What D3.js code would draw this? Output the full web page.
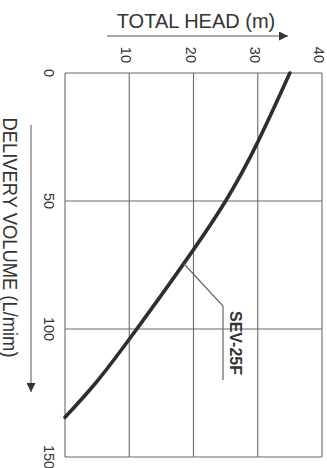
<!DOCTYPE html>
<html><head><meta charset="utf-8">
<script src="https://cdn.jsdelivr.net/npm/d3@7"></script>
<style>body{margin:0;background:#fff}svg{display:block}text{font-family:"Liberation Sans",Arial,sans-serif;fill:#333}</style>
</head><body>
<script>
const volume = [0, 27, 50, 69, 85, 104, 121, 134.5];
const head   = [35, 30, 25, 20, 15.5, 10, 4.8, 0];
const headTicks = [10, 20, 30, 40];
const volTicks = [0, 50, 100, 150];
const seriesName = "SEV-25F";
const headTitle = "TOTAL HEAD (m)";
const volTitle = "DELIVERY VOLUME (L/mim)";
const labelAt = {vol: 74.5, head: 18.5};

const W = 327, H = 468;
const svg = d3.select("body").append("svg").attr("width", W).attr("height", H);
const x = d3.scaleLinear().domain([0, 40]).range([65, 322]);
const y = d3.scaleLinear().domain([0, 150]).range([73, 457]);
const gridC = "#6a6a6a";

// grid
svg.append("g").selectAll("line").data(headTicks).join("line")
  .attr("x1", d => x(d)).attr("x2", d => x(d)).attr("y1", y(0)).attr("y2", y(150))
  .attr("stroke", gridC).attr("stroke-width", 1.1);
svg.append("g").selectAll("line").data(volTicks).join("line")
  .attr("x1", x(0)).attr("x2", x(40)).attr("y1", d => y(d)).attr("y2", d => y(d))
  .attr("stroke", gridC).attr("stroke-width", 1.1);
svg.append("line").attr("x1", x(0)).attr("x2", x(0)).attr("y1", y(0)).attr("y2", y(150))
  .attr("stroke", gridC).attr("stroke-width", 1.1);

// tick labels
svg.append("g").selectAll("text").data(headTicks).join("text")
  .attr("transform", d => `translate(${x(d) - 8},63) rotate(90)`)
  .attr("text-anchor", "end").attr("font-size", 14.5).text(d => d);
svg.append("g").selectAll("text").data(volTicks).join("text")
  .attr("transform", d => `translate(44,${y(d)}) rotate(90)`)
  .attr("text-anchor", "middle").attr("font-size", 14.5).text(d => d);

// titles + arrows
const defs = svg.append("defs");
defs.append("marker").attr("id", "ah").attr("viewBox", "0 0 10 10").attr("refX", 10).attr("refY", 5)
  .attr("markerWidth", 16).attr("markerHeight", 9).attr("markerUnits", "userSpaceOnUse").attr("orient", "auto")
  .append("path").attr("d", "M0,0 L10,5 L0,10 Z").attr("fill", "#333");
svg.append("text").attr("x", 196).attr("y", 27.5).attr("text-anchor", "middle")
  .attr("font-size", 20).text(headTitle);
svg.append("line").attr("x1", 107).attr("x2", 288).attr("y1", 36).attr("y2", 36)
  .attr("stroke", "#555").attr("stroke-width", 1).attr("marker-end", "url(#ah)");
svg.append("text").attr("transform", "translate(3,237.5) rotate(90)").attr("text-anchor", "middle")
  .attr("font-size", 20).attr("textLength", 240).attr("lengthAdjust", "spacingAndGlyphs").text(volTitle);
svg.append("line").attr("x1", 31).attr("x2", 31).attr("y1", 125).attr("y2", 392)
  .attr("stroke", "#555").attr("stroke-width", 1).attr("marker-end", "url(#ah)");

// curve
const pts = volume.map((v, i) => [x(head[i]), y(v)]);
svg.append("path").attr("d", d3.line().curve(d3.curveNatural)(pts))
  .attr("fill", "none").attr("stroke", "#2e2e2e").attr("stroke-width", 3.6).attr("stroke-linecap", "round");

// annotation
const ax = x(labelAt.head), ay = y(labelAt.vol);
svg.append("path").attr("d", `M${ax},${ay} L223,306 L223,380`)
  .attr("fill", "none").attr("stroke", "#666").attr("stroke-width", 1.2);
svg.append("text").attr("transform", "translate(230,343) rotate(90)").attr("text-anchor", "middle")
  .attr("font-size", 16).attr("font-weight", "bold").text(seriesName);
</script>
</body></html>
